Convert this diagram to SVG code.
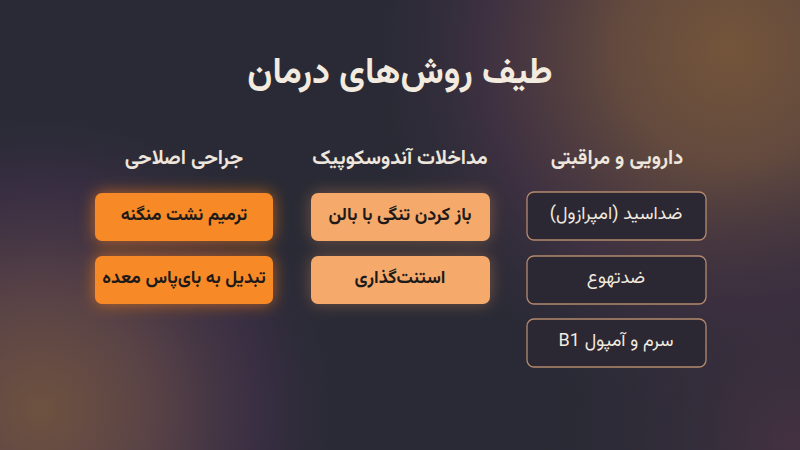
<svg xmlns="http://www.w3.org/2000/svg" width="800" height="450" viewBox="0 0 800 450">
<defs>
<radialGradient id="gTR" cx="730" cy="50" r="380" gradientUnits="userSpaceOnUse">
<stop offset="0" stop-color="#74553a"/>
<stop offset="0.3" stop-color="#634a3e"/>
<stop offset="0.65" stop-color="#453345" stop-opacity="0.75"/>
<stop offset="1" stop-color="#2a2a36" stop-opacity="0"/>
</radialGradient>
<radialGradient id="gBL" cx="40" cy="410" r="320" gradientUnits="userSpaceOnUse">
<stop offset="0" stop-color="#6e5240"/>
<stop offset="0.35" stop-color="#5a4346"/>
<stop offset="0.7" stop-color="#3f3048" stop-opacity="0.7"/>
<stop offset="1" stop-color="#2a2a36" stop-opacity="0"/>
</radialGradient>
<radialGradient id="gBR" cx="790" cy="440" r="280" gradientUnits="userSpaceOnUse">
<stop offset="0" stop-color="#4a3345" stop-opacity="0.8"/>
<stop offset="1" stop-color="#2a2a36" stop-opacity="0"/>
</radialGradient>
<filter id="glow" x="-30%" y="-60%" width="160%" height="220%">
<feGaussianBlur stdDeviation="8"/>
</filter>
<style>
text{font-family:"Vazirmatn","Noto Sans Arabic","DejaVu Sans",sans-serif;text-anchor:middle;dominant-baseline:central;direction:rtl}
.title{font-size:36px;font-weight:700;fill:#f3ebdf}
.head{font-size:20px;font-weight:700;fill:#eee6dc}
.lbl{font-size:18px;font-weight:700;fill:#1e1a1a}
.lbl2{font-size:18px;font-weight:400;fill:#f1eadf}
.or{fill:#f78a27}
.pe{fill:#f5aa6c}
.dk{fill:#2b2733;stroke:#b48a6e;stroke-width:1.3}
.glowO{fill:#f07a18;opacity:0.7}
.glowP{fill:#e8945a;opacity:0.4}
</style>
</defs>
<rect width="800" height="450" fill="#292a35"/>
<rect width="800" height="450" fill="url(#gTR)"/>
<rect width="800" height="450" fill="url(#gBL)"/>
<rect width="800" height="450" fill="url(#gBR)"/>

<text class="title" x="400" y="74">طیف روش‌های درمان</text>

<g id="col-surgery">
<text class="head" x="184" y="159">جراحی اصلاحی</text>
<g id="n-fistula">
<rect class="glowO" x="95" y="193" width="178" height="48" rx="7" filter="url(#glow)"/>
<rect class="or" x="95" y="193" width="178" height="48" rx="7"/>
<text class="lbl" x="184" y="216">ترمیم نشت منگنه</text>
</g>
<g id="n-bypass">
<rect class="glowO" x="95" y="256" width="178" height="48" rx="7" filter="url(#glow)"/>
<rect class="or" x="95" y="256" width="178" height="48" rx="7"/>
<text class="lbl" x="184" y="279">تبدیل به بای‌پاس معده</text>
</g>
</g>

<g id="col-endo">
<text class="head" x="400" y="159">مداخلات آندوسکوپیک</text>
<g id="n-balloon">
<rect class="glowP" x="311" y="193" width="179" height="48" rx="7" filter="url(#glow)"/>
<rect class="pe" x="311" y="193" width="179" height="48" rx="7"/>
<text class="lbl" x="400" y="216">باز کردن تنگی با بالن</text>
</g>
<g id="n-stent">
<rect class="glowP" x="311" y="256" width="179" height="48" rx="7" filter="url(#glow)"/>
<rect class="pe" x="311" y="256" width="179" height="48" rx="7"/>
<text class="lbl" x="400" y="279">استنت‌گذاری</text>
</g>
</g>

<g id="col-med">
<text class="head" x="617" y="159">دارویی و مراقبتی</text>
<g id="n-ppi">
<rect class="dk" x="527" y="192" width="179" height="48" rx="7"/>
<text class="lbl2" x="616" y="215">ضداسید (امپرازول)</text>
</g>
<g id="n-antiemetic">
<rect class="dk" x="527" y="256" width="179" height="48" rx="7"/>
<text class="lbl2" x="616" y="279">ضدتهوع</text>
</g>
<g id="n-b1">
<rect class="dk" x="527" y="319" width="179" height="48" rx="7"/>
<text class="lbl2" x="616" y="342">سرم و آمپول B1</text>
</g>
</g>

<g id="connectors"></g>
</svg>
